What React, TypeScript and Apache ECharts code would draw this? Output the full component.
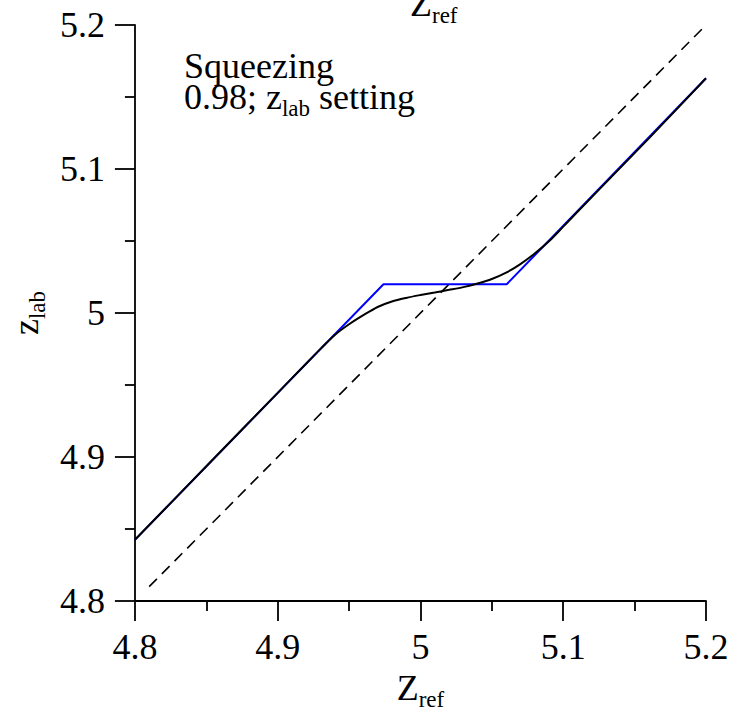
import React, { useEffect, useRef } from "react";
import * as echarts from "echarts";

const FONT = "Liberation Serif, Times New Roman, Times, DejaVu Serif, serif";

const xTicks = [4.8, 4.9, 5.0, 5.1, 5.2];
const yTicks = [4.8, 4.9, 5.0, 5.1, 5.2];

// Blue: piecewise (plateau) mapping
const blueZref = [4.8, 4.9741, 5.0604, 5.2];
const blueZlab = [4.8425, 5.02, 5.02, 5.163];

// Black: smooth mapping
const blackZref = [4.8, 4.85, 4.9, 4.92, 4.93, 4.94, 4.95, 4.96, 4.97, 4.98, 4.99, 5.0, 5.01, 5.02, 5.03, 5.04, 5.05, 5.06, 5.07, 5.08, 5.09, 5.1, 5.11, 5.13, 5.16, 5.2];
const blackZlab = [4.8426, 4.8936, 4.9446, 4.965, 4.9751, 4.9848, 4.9922, 4.9985, 5.0042, 5.008, 5.0105, 5.0125, 5.0143, 5.0161, 5.018, 5.0205, 5.0236, 5.028, 5.034, 5.0413, 5.0498, 5.06, 5.0703, 5.0907, 5.1213, 5.163];

// Dashed identity line
const diagZref = [4.81, 5.2];
const diagZlab = [4.81, 5.2];

const zip = (a: number[], b: number[]) => a.map((v, i) => [v, b[i]]);

const nearest = (arr: number[], v: number) =>
  arr.reduce((p, c) => (Math.abs(c - v) < Math.abs(p - v) ? c : p));
const fmt = (v: number) => String(Math.round(v * 10) / 10);

const subRich = (fill: boolean, mainLH: number, subPad: number) => {
  const colorKey = fill ? "fill" : "color";
  return {
    m: {
      fontFamily: FONT,
      fontSize: 36,
      [colorKey]: "#000",
      lineHeight: mainLH,
      verticalAlign: "bottom",
      padding: [0.01, 0, 0, 0],
    },
    s: {
      fontFamily: FONT,
      fontSize: 23,
      [colorKey]: "#000",
      lineHeight: 2,
      verticalAlign: "top",
      padding: [subPad, 0, 0, 0],
    },
  };
};

const tickRich = {
  n: { fontFamily: FONT, fontSize: 36, color: "#000", padding: [0.01, 0, 0, 0] },
};

export default function App() {
  const ref = useRef<HTMLDivElement>(null);
  useEffect(() => {
    if (!ref.current) return;
    const chart = echarts.init(ref.current, null, { renderer: "svg" });
    const axisCommon = {
      type: "value" as const,
      min: 4.8,
      max: 5.2,
      interval: 0.1,
      splitLine: { show: false },
      axisLine: { show: true, lineStyle: { color: "#000", width: 1.8 } },
      axisTick: { show: true, length: 20, lineStyle: { color: "#000", width: 1.8 } },
      minorTick: { show: true, splitNumber: 2, length: 10, lineStyle: { color: "#000", width: 1.8 } },
    };
    const option = {
      animation: false,
      backgroundColor: "#fff",
      textStyle: { fontFamily: FONT },
      grid: { left: 130, top: 25, width: 576, height: 577.5 },
      xAxis: {
        ...axisCommon,
        axisLabel: {
          margin: 28,
          color: "#000",
          fontFamily: FONT,
          fontSize: 36,
          rich: tickRich,
          formatter: (v: number) => "{n|" + fmt(nearest(xTicks, v)) + "}",
        },
        name: "{m|Z}{s|ref}",
        nameLocation: "middle",
        nameGap: 68,
        nameTextStyle: { fontFamily: FONT, rich: subRich(false, 36, 18) },
      },
      yAxis: {
        ...axisCommon,
        axisLabel: {
          margin: 30,
          color: "#000",
          fontFamily: FONT,
          fontSize: 36,
          rich: tickRich,
          formatter: (v: number) => "{n|" + fmt(nearest(yTicks, v)) + "}",
        },
        name: "{m|z}{s|lab}",
        nameLocation: "middle",
        nameRotate: 90,
        nameGap: 84,
        nameTextStyle: { fontFamily: FONT, rich: subRich(false, 36, 18) },
      },
      graphic: [
        {
          type: "text",
          left: 410,
          top: -14,
          style: {
            text: "{m|Z}{s|ref}",
            fontFamily: FONT,
            rich: subRich(true, 36, 18),
          },
        },
        {
          type: "text",
          left: 184,
          top: 48,
          style: {
            text: "{m|Squeezing}\n{m|0.98; z}{s|lab}{m| setting}",
            fontFamily: FONT,
            rich: subRich(true, 31, 13),
          },
        },
      ],
      series: [
        {
          type: "line",
          data: zip(diagZref, diagZlab),
          showSymbol: false,
          lineStyle: { color: "#000", width: 1.6, type: [11, 7] },
          z: 1,
        },
        {
          type: "line",
          data: zip(blueZref, blueZlab),
          showSymbol: false,
          lineStyle: { color: "#0000ff", width: 2 },
          z: 2,
        },
        {
          type: "line",
          data: zip(blackZref, blackZlab),
          showSymbol: false,
          smooth: 0.3,
          lineStyle: { color: "#000", width: 2 },
          z: 3,
        },
      ],
    };
    chart.setOption(option as any);
    return () => chart.dispose();
  }, []);
  return (
    <div
      ref={ref}
      style={{ position: "absolute", left: 0, top: 0, width: 735, height: 716 }}
    />
  );
}
